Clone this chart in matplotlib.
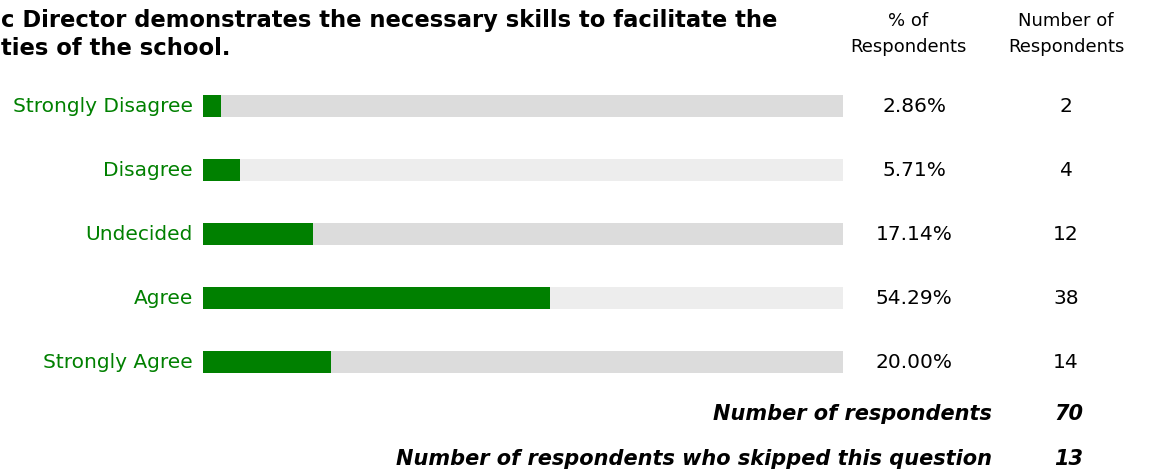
import numpy as np
import matplotlib
matplotlib.use("Agg")
import matplotlib.pyplot as plt
import matplotlib.transforms as mtransforms

# data
categories = ["Strongly Disagree", "Disagree", "Undecided", "Agree", "Strongly Agree"]
percents = [2.86, 5.71, 17.14, 54.29, 20.00]
counts = [2, 4, 12, 38, 14]
total_respondents = 70
skipped = 13
# title as visible in the (cropped) source
title_lines = ["c Director demonstrates the necessary skills to facilitate the",
               "ties of the school."]

W, H = 1150, 472
green = "#008000"
track_colors = ["#dcdcdc", "#ededed"]

plt.rcParams["font.family"] = "DejaVu Sans"
fig = plt.figure(figsize=(W / 100, H / 100), dpi=100)

# bar axes: x 203..843 px, rows from y 74..394 px (top origin)
ax = fig.add_axes([203 / W, (H - 394) / H, 640 / W, 320 / H])
ax.set_xlim(0, 100)
ax.set_ylim(len(categories) - 0.5, -0.5)
ax.axis("off")

rows = np.arange(len(categories))
bar_h = 22 / 64
ax.barh(rows, [100] * len(rows), height=bar_h,
        color=[track_colors[i % 2] for i in rows], linewidth=0)
ax.barh(rows, percents, height=bar_h, color=green, linewidth=0)

# x in figure pixels, y in data rows
colx = mtransforms.blended_transform_factory(
    mtransforms.Affine2D().scale(1 / W, 1) + fig.transFigure, ax.transData)

fs = 14.5
for i, (cat, p, n) in enumerate(zip(categories, percents, counts)):
    ax.text(193, i, cat, transform=colx, ha="right", va="center",
            color=green, fontsize=fs)
    ax.text(914, i, f"{p:.2f}%", transform=colx, ha="center", va="center",
            color="black", fontsize=fs)
    ax.text(1066, i, str(n), transform=colx, ha="center", va="center",
            color="black", fontsize=fs)

# headers
hfs = 13
fig.text(908 / W, 1 - 34 / H, "% of\nRespondents", ha="center", va="center",
         fontsize=hfs, linespacing=1.55)
fig.text(1066 / W, 1 - 34 / H, "Number of\nRespondents", ha="center", va="center",
         fontsize=hfs, linespacing=1.55)

# title
for line, base in zip(title_lines, [27, 55]):
    fig.text(1 / W, 1 - base / H, line, ha="left", va="baseline",
             fontsize=16.3, fontweight="bold")

# footer
foot = dict(fontsize=15, fontweight="bold", style="italic")
fig.text(992 / W, 1 - 414 / H, "Number of respondents", ha="right", va="center", **foot)
fig.text(1069 / W, 1 - 414 / H, str(total_respondents), ha="center", va="center", **foot)
fig.text(992 / W, 1 - 459 / H, "Number of respondents who skipped this question",
         ha="right", va="center", **foot)
fig.text(1069 / W, 1 - 459 / H, str(skipped), ha="center", va="center", **foot)

fig.savefig("out.png", dpi=100)
